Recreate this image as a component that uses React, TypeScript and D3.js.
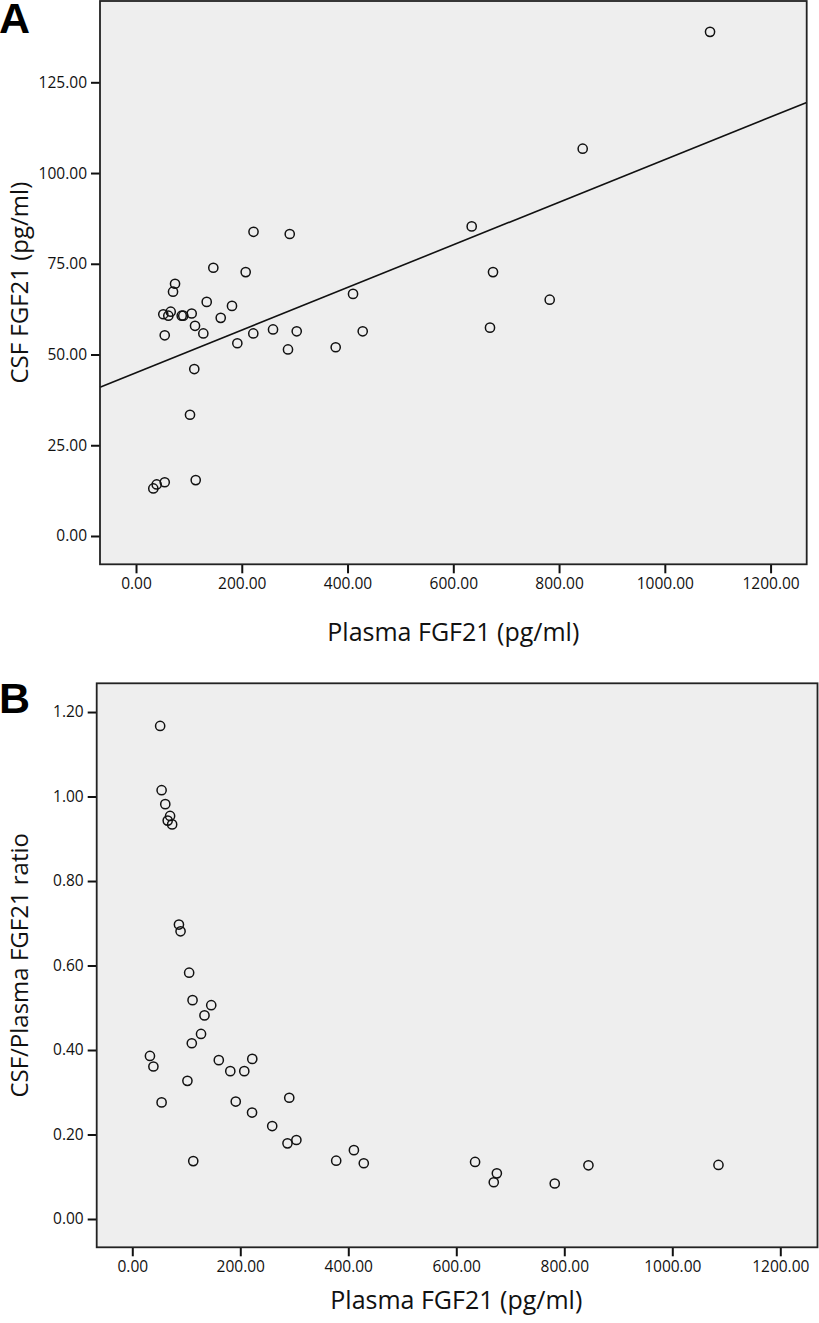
import React, { useEffect, useRef } from "react";
import * as d3 from "d3";

// one entry per subject
const plasmaFGF21: number[] = [
  146.2, 207.4, 73.8, 70.0, 133.7, 181.5, 410.4, 51.6, 61.1, 65.6,
  86.4, 89.4, 105.3, 160.2, 111.6, 54.3, 127.3, 221.8, 259.1, 303.9,
  428.7, 191.6, 287.4, 377.6, 110.2, 102.1, 32.7, 39.1, 54.3, 112.9,
  1085.5, 844.7, 634.8, 675.1, 782.3, 669.4, 222.2, 290.7,
];
const csfFGF21: number[] = [
  73.9, 72.7, 69.5, 67.3, 64.5, 63.4, 66.7, 61.1, 60.7, 61.8,
  60.7, 60.7, 61.3, 60.1, 57.9, 55.3, 55.8, 55.8, 56.9, 56.4,
  56.4, 53.1, 51.4, 52.0, 46.0, 33.4, 13.1, 14.2, 14.8, 15.4,
  138.9, 106.7, 85.3, 72.7, 65.1, 57.4, 83.8, 83.2,
];
const csfPlasmaRatio: number[] = [
  0.506, 0.35, 0.934, 0.954, 0.482, 0.35, 0.163, 1.167, 0.982, 0.943,
  0.697, 0.681, 0.583, 0.376, 0.518, 1.015, 0.438, 0.252, 0.22, 0.187,
  0.132, 0.278, 0.179, 0.138, 0.416, 0.327, 0.386, 0.361, 0.276, 0.137,
  0.128, 0.127, 0.135, 0.108, 0.084, 0.087, 0.379, 0.287,
];

// fitted line in panel A
const fitIntercept = 45.0;
const fitSlope = 0.0587;

const xTicks: number[] = [0, 200, 400, 600, 800, 1000, 1200];
const yTicksA: number[] = [0, 25, 50, 75, 100, 125];
const yTicksB: number[] = [0, 0.2, 0.4, 0.6, 0.8, 1.0, 1.2];

const FONT = "'Open Sans', 'Noto Sans', sans-serif";

const App: React.FC = () => {
  const svgRef = useRef<SVGSVGElement | null>(null);

  useEffect(() => {
    const svg = d3.select(svgRef.current);
    svg.selectAll("*").remove();
    const fmt = d3.format(".2f");

    const drawPanel = (opts: {
      box: { left: number; right: number; top: number; bottom: number };
      xDomain: [number, number];
      yDomain: [number, number];
      yTicks: number[];
      yValues: number[];
      yTitle: string;
      xTitleGap: number;
      letter: string;
      letterY: number;
      withFit: boolean;
    }) => {
      const { box } = opts;
      const x = d3.scaleLinear().domain(opts.xDomain).range([box.left, box.right]);
      const y = d3.scaleLinear().domain(opts.yDomain).range([box.bottom, box.top]);
      const g = svg.append("g");

      g.append("rect")
        .attr("x", box.left)
        .attr("y", box.top)
        .attr("width", box.right - box.left)
        .attr("height", box.bottom - box.top)
        .attr("fill", "#eeeeee");

      // axes
      const xAxis = d3.axisBottom(x).tickValues(xTicks).tickSize(9).tickPadding(5).tickFormat((d) => fmt(d as number));
      const yAxis = d3.axisLeft(y).tickValues(opts.yTicks).tickSize(9).tickPadding(4).tickFormat((d) => fmt(d as number));

      const gx = g.append("g").attr("transform", `translate(0,${box.bottom})`).call(xAxis as any);
      const gy = g.append("g").attr("transform", `translate(${box.left},0)`).call(yAxis as any);
      [gx, gy].forEach((ax) => {
        ax.select(".domain").remove();
        ax.selectAll("line").attr("stroke", "#111").attr("stroke-width", 2);
        ax.selectAll("text")
          .attr("fill", "#111")
          .style("font-family", FONT)
          .style("font-size", "15.5px");
      });

      // regression line
      if (opts.withFit) {
        const line = d3
          .line<number>()
          .x((d) => x(d))
          .y((d) => y(fitIntercept + fitSlope * d));
        g.append("path")
          .datum(opts.xDomain as number[])
          .attr("d", line)
          .attr("fill", "none")
          .attr("stroke", "#111")
          .attr("stroke-width", 1.6);
      }

      // points
      g.append("g")
        .selectAll("circle")
        .data(plasmaFGF21)
        .join("circle")
        .attr("cx", (d) => x(d))
        .attr("cy", (_d, i) => y(opts.yValues[i]))
        .attr("r", 4.6)
        .attr("fill", "none")
        .attr("stroke", "#111")
        .attr("stroke-width", 1.5);

      // frame
      g.append("rect")
        .attr("x", box.left)
        .attr("y", box.top)
        .attr("width", box.right - box.left)
        .attr("height", box.bottom - box.top)
        .attr("fill", "none")
        .attr("stroke", "#222")
        .attr("stroke-width", 1.8);

      // titles
      g.append("text")
        .attr("x", (x(0) + x(1200)) / 2)
        .attr("y", box.bottom + opts.xTitleGap)
        .attr("text-anchor", "middle")
        .attr("fill", "#111")
        .style("font-family", FONT)
        .style("font-size", "25px")
        .text("Plasma FGF21 (pg/ml)");

      g.append("text")
        .attr("transform", `translate(28,${(box.top + box.bottom) / 2}) rotate(-90)`)
        .attr("text-anchor", "middle")
        .attr("fill", "#111")
        .style("font-family", FONT)
        .style("font-size", "24px")
        .text(opts.yTitle);

      g.append("text")
        .attr("x", -1)
        .attr("y", opts.letterY)
        .attr("fill", "#000")
        .style("font-family", "'Liberation Sans', Arial, sans-serif")
        .style("font-weight", "bold")
        .style("font-size", "43px")
        .text(opts.letter);
    };

    drawPanel({
      box: { left: 100, right: 806.7, top: 1, bottom: 564.3 },
      xDomain: [-68.1, 1268.3],
      yDomain: [-7.8, 147.4],
      yTicks: yTicksA,
      yValues: csfFGF21,
      yTitle: "CSF FGF21 (pg/ml)",
      xTitleGap: 77,
      letter: "A",
      letterY: 33,
      withFit: true,
    });

    drawPanel({
      box: { left: 96.7, right: 817.5, top: 683.3, bottom: 1247.3 },
      xDomain: [-65.9, 1268.9],
      yDomain: [-0.067, 1.268],
      yTicks: yTicksB,
      yValues: csfPlasmaRatio,
      yTitle: "CSF/Plasma FGF21 ratio",
      xTitleGap: 62,
      letter: "B",
      letterY: 713,
      withFit: false,
    });
  }, []);

  return (
    <svg
      ref={svgRef}
      width={819}
      height={1323}
      style={{ position: "absolute", left: 0, top: 0, background: "white" }}
    />
  );
};

export default App;
